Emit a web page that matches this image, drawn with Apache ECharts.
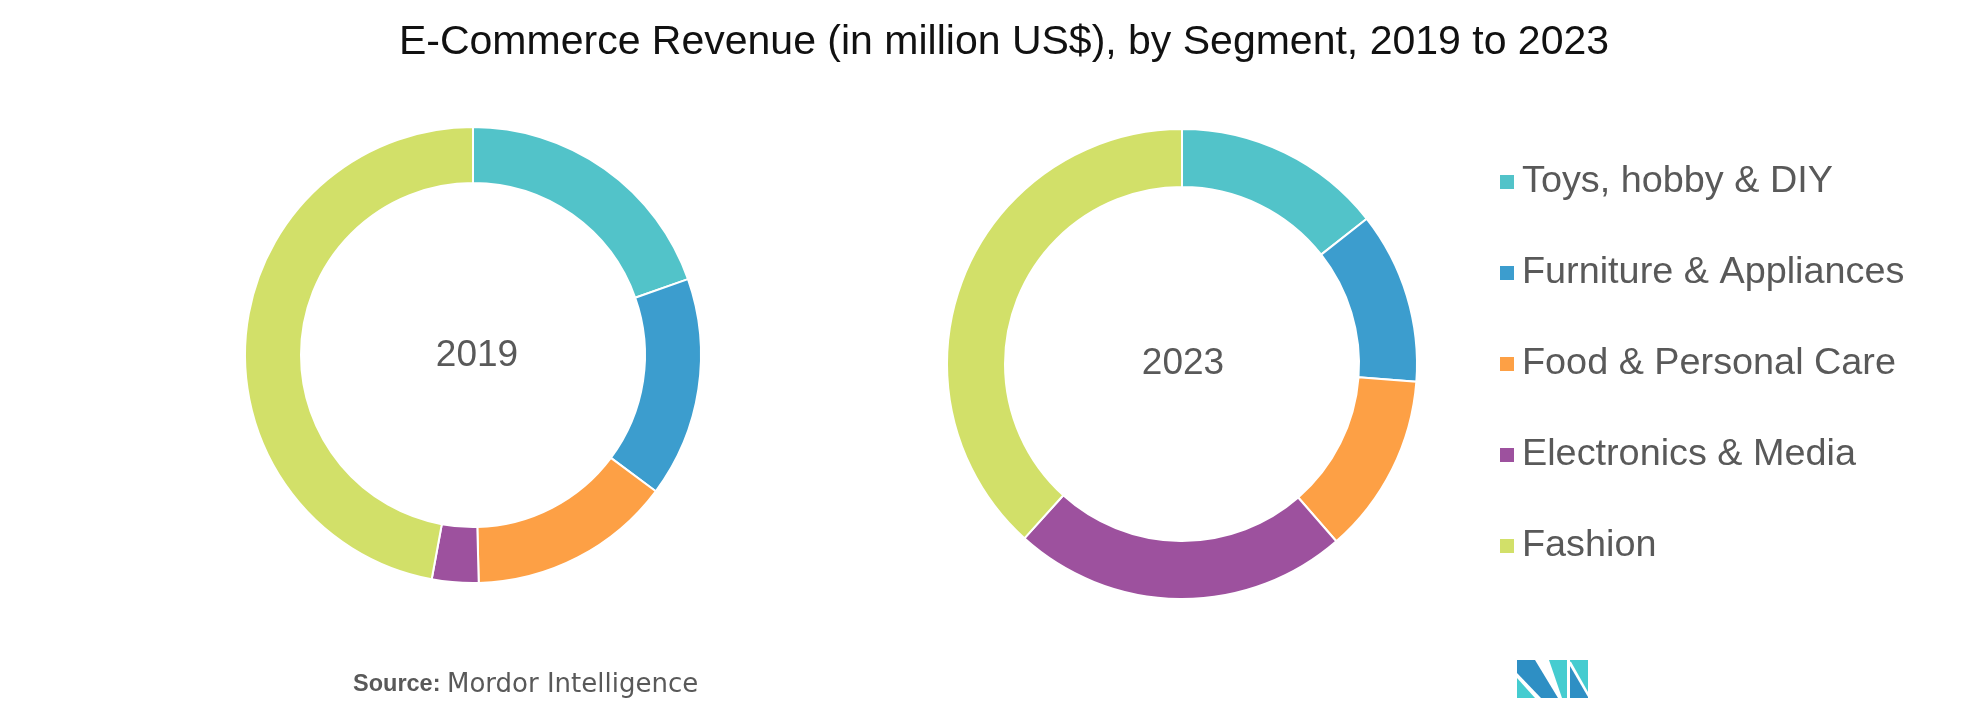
<!DOCTYPE html>
<html>
<head>
<meta charset="utf-8">
<script src="https://cdn.jsdelivr.net/npm/echarts@6/dist/echarts.min.js"></script>
<style>
html,body{margin:0;padding:0;background:#fff;}
#chart{width:1963px;height:718px;}
</style>
</head>
<body>
<div id="chart"></div>
<script>
// ---- data (share of revenue, %) ----
const segments = ['Toys, hobby & DIY', 'Furniture & Appliances', 'Food & Personal Care', 'Electronics & Media', 'Fashion'];
const values2019 = [19.6, 15.6, 14.4, 3.3, 47.1];
const values2023 = [14.4, 11.8, 12.4, 23.1, 38.3];
const years = ['2019', '2023'];
const colors = ['#52C3C9', '#3C9DCE', '#FDA045', '#9D519E', '#D2E069'];

const FONT = 'Liberation Sans, Arial, sans-serif';
const chart = echarts.init(document.getElementById('chart'), null, {renderer: 'canvas'});

function pieData(vals) {
  return segments.map((n, i) => ({name: n, value: vals[i]}));
}

const pieCommon = {
  type: 'pie',
  startAngle: 90,
  clockwise: true,
  label: {show: false},
  labelLine: {show: false},
  emphasis: {disabled: true},
  itemStyle: {borderColor: '#ffffff', borderWidth: 2},
  avoidLabelOverlap: false
};

chart.setOption({
  animation: false,
  color: colors,
  legend: {
    orient: 'vertical',
    left: 1493,
    top: 158,
    icon: 'rect',
    itemWidth: 16,
    itemHeight: 16,
    itemGap: 53,
    selectedMode: false,
    data: segments,
    textStyle: {fontSize: 37.8, lineHeight: 38, color: '#595959', fontFamily: FONT, padding: [0, 0, 0, 2]}
  },
  graphic: [
    {type: 'text', x: 1004, y: 43, style: {text: 'E-Commerce Revenue (in million US$), by Segment, 2019 to 2023', fontSize: 41, fontFamily: FONT, fill: '#111111', textAlign: 'center', textVerticalAlign: 'middle', align: 'center', verticalAlign: 'middle'}},
    {type: 'text', x: 477, y: 356, style: {text: years[0], fontSize: 37, fontFamily: FONT, fill: '#595959', textAlign: 'center', textVerticalAlign: 'middle', align: 'center', verticalAlign: 'middle'}},
    {type: 'text', x: 1183, y: 364, style: {text: years[1], fontSize: 37, fontFamily: FONT, fill: '#595959', textAlign: 'center', textVerticalAlign: 'middle', align: 'center', verticalAlign: 'middle'}},
    {type: 'text', x: 353, y: 685, style: {text: 'Source:', fontSize: 23.5, fontWeight: 'bold', fontFamily: FONT, fill: '#595959', textAlign: 'left', textVerticalAlign: 'middle', align: 'left', verticalAlign: 'middle'}},
    {type: 'text', x: 447, y: 685, style: {text: 'Mordor Intelligence', fontSize: 26, fontFamily: 'DejaVu Sans, sans-serif', fill: '#595959', textAlign: 'left', textVerticalAlign: 'middle', align: 'left', verticalAlign: 'middle'}},
    // logo
    {type: 'polygon', shape: {points: [[1517,660],[1535,660],[1558,698],[1541,698],[1517,673]]}, style: {fill: '#2E8FC4'}},
    {type: 'polygon', shape: {points: [[1517,678],[1517,698],[1535,698]]}, style: {fill: '#45CCD0'}},
    {type: 'polygon', shape: {points: [[1549,660],[1567,660],[1567,698],[1562,698]]}, style: {fill: '#45CCD0'}},
    {type: 'polygon', shape: {points: [[1570,660],[1588,660],[1588,692]]}, style: {fill: '#45CCD0'}},
    {type: 'polygon', shape: {points: [[1570,666],[1588,697],[1588,698],[1570,698]]}, style: {fill: '#2E8FC4'}},
    {type: 'polygon', shape: {points: [[1570,660],[1573,660],[1570,662]]}, style: {fill: '#45CCD0'}}
  ],
  series: [
    Object.assign({}, pieCommon, {name: years[0], center: [473, 355], radius: [172, 228], data: pieData(values2019)}),
    Object.assign({}, pieCommon, {name: years[1], center: [1182, 364], radius: [177, 235], data: pieData(values2023)})
  ]
});
</script>
</body>
</html>
